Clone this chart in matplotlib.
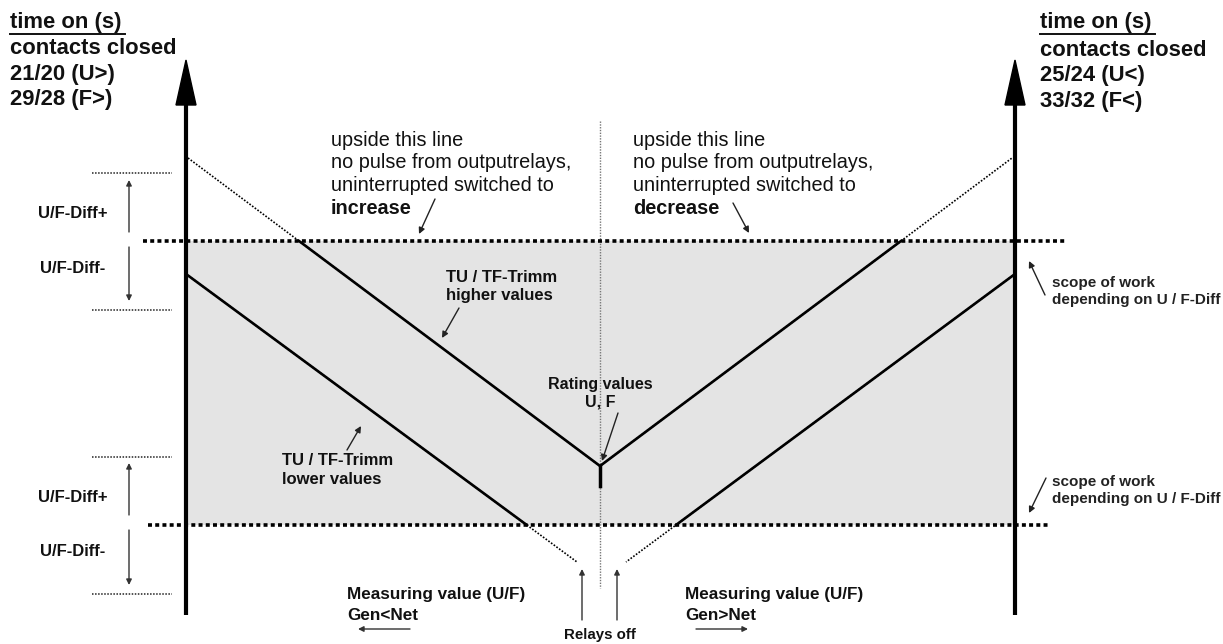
import matplotlib.pyplot as plt
import numpy as np
from matplotlib.patches import Polygon, Rectangle

plt.rcParams['font.family'] = ['Liberation Sans', 'DejaVu Sans']

# diagram coordinates (x: measuring value, y: time, origin top-left)
axis_x = [186, 1015]
axis_top = 60
axis_bottom = 615
band = [241, 525]                    # scope of work (upper / lower switching line)
band_span = [[143, 1067], [148, 1050]]
diff_levels = [173, 310, 457, 594]   # U/F-Diff limits
rating_x = 600

# TU / TF-Trimm characteristic lines
higher_x = [188, 600, 1012]
higher_y = [158, 466, 158]
lower_left_x = [186, 577]
lower_left_y = [274, 562]
lower_right_x = [1015, 626]
lower_right_y = [274, 562]

head_left = ["contacts closed", "21/20 (U>)", "29/28 (F>)"]
head_right = ["contacts closed", "25/24 (U<)", "33/32 (F<)"]
upside_text = ["upside this line", "no pulse from outputrelays,",
               "uninterrupted switched to"]

fig = plt.figure(figsize=(12.23, 6.44), dpi=100)
ax = fig.add_axes([0, 0, 1, 1])
ax.set_xlim(0, 1223)
ax.set_ylim(644, 0)
ax.axis('off')

# grey working area
ax.add_patch(Rectangle((axis_x[0], band[0]), axis_x[1] - axis_x[0], band[1] - band[0],
                       facecolor='#e4e4e4', edgecolor='none', zorder=0))

# thick dotted switching lines
for yb, (x0, x1) in zip(band, band_span):
    ax.plot([x0, x1], [yb, yb], color='black', lw=2.6, ls=(0, (1.1, 0.9)), zorder=3)

# thin dotted U/F-Diff limits on the left
for yl in diff_levels:
    ax.plot([92, 172], [yl, yl], color='#222', lw=1.1, ls=(0, (1, 1)))

# centre line (rating value)
ax.plot([rating_x, rating_x], [121, 588], color='#777', lw=1.0, ls=(0, (1, 1)))

# higher values: dotted outside band, solid inside
hx = np.array(higher_x, dtype=float)
hy = np.array(higher_y, dtype=float)
ax.plot(hx, hy, color='black', lw=1.2, ls=(0, (1, 1)))
xl = np.interp(band[0], hy[:2], hx[:2])
xr = np.interp(band[0], hy[:0:-1], hx[:0:-1])
ax.plot([xl, hx[1], xr], [band[0], hy[1], band[0]], color='black', lw=1.9, zorder=4)

# lower values
for lx, ly in ((lower_left_x, lower_left_y), (lower_right_x, lower_right_y)):
    ax.plot(lx, ly, color='black', lw=1.2, ls=(0, (1, 1)))
    xc = np.interp(band[1], ly, lx)
    ax.plot([lx[0], xc], [ly[0], band[1]], color='black', lw=1.9, zorder=4)

# small mark at the vertex
ax.plot([rating_x, rating_x], [hy[1], hy[1] + 20], color='black', lw=2.5, zorder=4)

# vertical axes with arrow heads
for xa in axis_x:
    ax.plot([xa, xa], [axis_top + 40, axis_bottom], color='black', lw=3.0, zorder=5,
            solid_capstyle='butt')
    ax.add_patch(Polygon([[xa - 10, axis_top + 45], [xa + 10, axis_top + 45], [xa, axis_top]],
                         closed=True, facecolor='black', edgecolor='black', zorder=5))


def arrow(tail, head, lw=1.0, color='#222', ms=9):
    ax.annotate('', xy=head, xytext=tail,
                arrowprops=dict(arrowstyle='-|>', lw=lw, color=color,
                                mutation_scale=ms, shrinkA=0, shrinkB=0))


def lines(x, y0, pitch, texts, **kw):
    for i, t in enumerate(texts):
        ax.text(x, y0 + i * pitch, t, va='center', **kw)


# header texts
for x0 in (10, 1040):
    ax.text(x0, 22, "time on (s)", fontsize=15.8, fontweight='bold', va='center', color='#111')
    ax.plot([x0, x0 + 115], [34, 34], color='#111', lw=1.4)
lines(10, 48.5, 25.5, head_left, fontsize=15.8, fontweight='bold', color='#111')
lines(1040, 50, 25.5, head_right, fontsize=15.8, fontweight='bold', color='#111')

# U/F-Diff labels and arrows
for y_up, y_dn in ((213, 268), (497, 552)):
    ax.text(73, y_up, "U/F-Diff+", fontsize=12, fontweight='bold', ha='center', va='center', color='#111')
    ax.text(73, y_dn, "U/F-Diff-", fontsize=12, fontweight='bold', ha='center', va='center', color='#111')
for tail, head in (((129, 232), (129, 180)), ((129, 247), (129, 301)),
                   ((129, 515), (129, 463)), ((129, 530), (129, 585))):
    arrow(tail, head, lw=1.0, color='#333', ms=8)

# upside texts
for x0, word in ((331, "increase"), (633, "decrease")):
    lines(x0, 140, 22.7, upside_text, fontsize=14.3, color='#111')
    ax.text(x0, 208, word, fontsize=14.3, fontweight='bold', va='center', color='#111')
arrow((435, 199), (419, 234))
arrow((733, 203), (749, 233))

# TU / TF-Trimm labels
lines(446, 277, 18.5, ["TU / TF-Trimm", "higher values"], fontsize=12, fontweight='bold', color='#111')
arrow((459, 308), (442, 338))
lines(282, 460, 19, ["TU / TF-Trimm", "lower values"], fontsize=12, fontweight='bold', color='#111')
arrow((347, 450), (361, 426))

# rating values
ax.text(600, 384, "Rating values", fontsize=11.5, fontweight='bold', ha='center', va='center', color='#111')
ax.text(600, 402, "U, F", fontsize=11.5, fontweight='bold', ha='center', va='center', color='#111')
arrow((618, 413), (602, 461))

# scope of work
for y0 in (283, 482):
    lines(1052, y0, 17, ["scope of work", "depending on U / F-Diff"], fontsize=11,
          fontweight='bold', color='#222')
arrow((1045, 295), (1029, 261))
arrow((1046, 478), (1029, 513))

# measuring value
lines(347, 595, 20, ["Measuring value (U/F)", "Gen<Net"], fontsize=12.3, fontweight='bold', color='#111')
lines(685, 595, 20, ["Measuring value (U/F)", "Gen>Net"], fontsize=12.3, fontweight='bold', color='#111')
arrow((410, 629), (358, 629), color='#333', ms=8)
arrow((696, 629), (748, 629), color='#333', ms=8)

# relays off
ax.text(600, 635, "Relays off", fontsize=10.8, fontweight='bold', ha='center', va='center', color='#111')
for xr_ in (582, 617):
    arrow((xr_, 620), (xr_, 569), color='#333', ms=8)

fig.savefig('out.png', dpi=100)
